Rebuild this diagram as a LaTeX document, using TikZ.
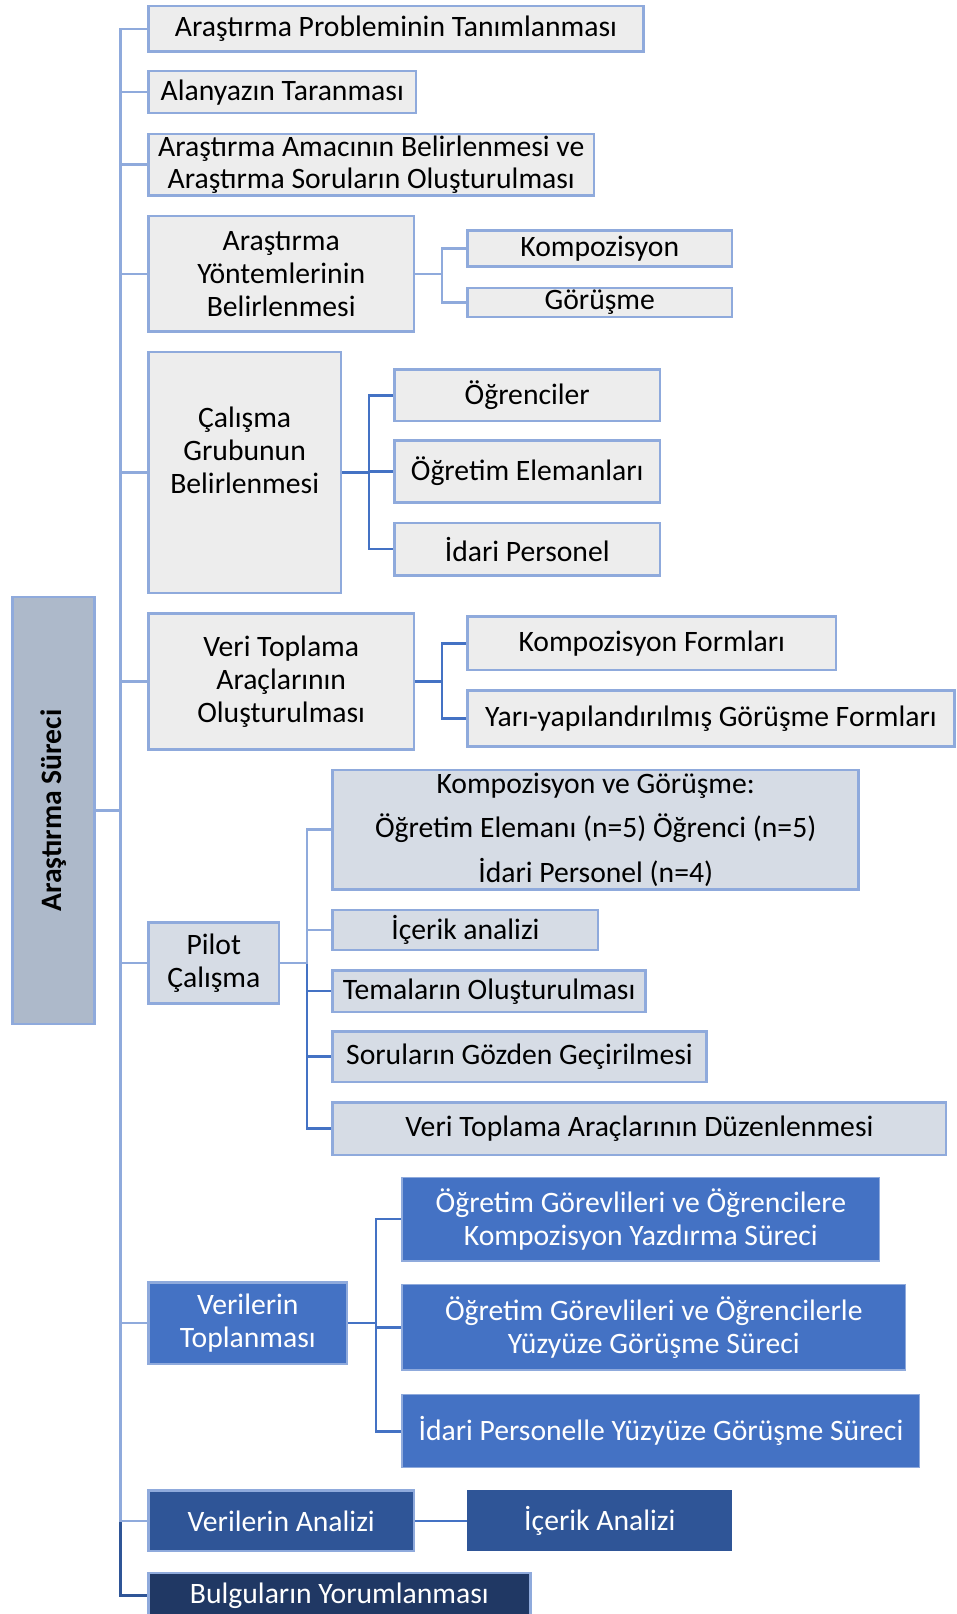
\documentclass[tikz,border=0pt]{standalone}
\usepackage{fontspec}
\setmainfont{Carlito}
\usepackage{tikz}
\usetikzlibrary{positioning, calc, backgrounds}

\definecolor{lineL}{HTML}{8FAADC}
\definecolor{lineM}{HTML}{4472C4}
\definecolor{lineD}{HTML}{2F5597}
\definecolor{fillG}{HTML}{EDEDED}
\definecolor{fillP}{HTML}{D6DCE5}
\definecolor{fillR}{HTML}{ADB9CA}
\definecolor{fillN}{HTML}{203864}

\tikzset{
  box/.style={draw=lineL, line width=2.4pt, fill=fillG, inner sep=0pt, align=center,
    anchor=west, font=\fontsize{28.8}{32}\selectfont},
  pbox/.style={box, fill=fillP},
  bbox/.style={box, fill=lineM, text=white},
  dbox/.style={box, fill=lineD, text=white},
  conL/.style={draw=lineL, line width=2.4pt},
  conM/.style={draw=lineM, line width=2.4pt},
  conD/.style={draw=lineD, line width=2.4pt}
}

\begin{document}
\begin{tikzpicture}[x=1pt, y=-1pt]
\useasboundingbox (0,0) rectangle (929,1568);

% root
\node[box, fill=fillR, anchor=center, minimum width=80, minimum height=415] (root) at (52,787.5)
  {\rotatebox{90}{\bfseries Araştırma Süreci}};

% first level
\node[box, minimum width=481, minimum height=44] (prob) at (143,28) {Araştırma Probleminin Tanımlanması};
\node[box, minimum width=260, minimum height=41] (alan) at (143,89.5) {Alanyazın Taranması};
\node[box, minimum width=433, minimum height=60] (amac) at (143,160) {Araştırma Amacının Belirlenmesi ve\\Araştırma Soruların Oluşturulması};
\node[box, minimum width=258, minimum height=112] (yont) at (143,266) {Araştırma\\Yöntemlerinin\\Belirlenmesi};
\node[box, minimum width=187, minimum height=234] (calis) at (143,459) {Çalışma\\Grubunun\\Belirlenmesi\\[12pt]\mbox{}};
\node[box, minimum width=258, minimum height=132] (veri) at (143,662) {Veri Toplama\\Araçlarının\\Oluşturulması};
\node[pbox, minimum width=127, minimum height=79] (pilot) at (143,935.5) {Pilot\\Çalışma};
\node[bbox, minimum width=193, minimum height=79] (topla) at (143,1285.5) {Verilerin\\Toplanması};
\node[dbox, minimum width=258, minimum height=59] (analiz) at (143,1477.5) {Verilerin Analizi};
\node[box, fill=fillN, text=white, minimum width=371, minimum height=44] (bulgu) at (143,1550) {Bulguların Yorumlanması};

% second level
\node[box, minimum width=257, minimum height=35] (komp) at (453,241.5) {Kompozisyon};
\node[box, minimum width=257, minimum height=28] (gor) at (453,294) {Görüşme};

\node[box, minimum width=258, minimum height=50] (ogr) at (382,384) {Öğrenciler};
\node[box, minimum width=258, minimum height=60] (ogrel) at (382,458) {Öğretim Elemanları};
\node[box, minimum width=258, minimum height=51] (idari) at (382,533.5) {İdari Personel};

\node[box, minimum width=358, minimum height=52] (kform) at (453,625) {Kompozisyon Formları};
\node[box, minimum width=473, minimum height=54] (yari) at (453,698) {Yarı-yapılandırılmış Görüşme Formları};

\node[pbox, minimum width=511, minimum height=116] (pkomp) at (322,806) {Kompozisyon ve Görüşme:\\[11.5pt]Öğretim Elemanı (n=5) Öğrenci (n=5)\\[11.5pt]İdari Personel (n=4)};
\node[pbox, minimum width=258, minimum height=39] (picerik) at (322,903.5) {İçerik analizi};
\node[pbox, minimum width=304, minimum height=40] (ptema) at (322,963) {Temaların Oluşturulması};
\node[pbox, minimum width=363, minimum height=49] (psoru) at (322,1026.5) {Soruların Gözden Geçirilmesi};
\node[pbox, minimum width=596, minimum height=51] (pveri) at (322,1096.5) {Veri Toplama Araçlarının Düzenlenmesi};

\node[bbox, line width=1.2pt, minimum width=464, minimum height=81] (tkomp) at (390,1184.5) {Öğretim Görevlileri ve Öğrencilere\\Kompozisyon Yazdırma Süreci};
\node[bbox, line width=1.2pt, minimum width=489, minimum height=83] (tyuz) at (390,1289.5) {Öğretim Görevlileri ve Öğrencilerle\\Yüzyüze Görüşme Süreci};
\node[bbox, line width=1.2pt, minimum width=503, minimum height=71] (tidari) at (390,1390.5) {İdari Personelle Yüzyüze Görüşme Süreci};

\node[dbox, draw=lineD, minimum width=255, minimum height=57] (icerik) at (454,1477.5) {İçerik Analizi};

% bend points
\coordinate (trunk) at (117,787.5);
\coordinate (yontB) at ($(yont.east)+(26,0)$);
\coordinate (calisB) at ($(calis.east)+(26,0)$);
\coordinate (veriB) at ($(veri.east)+(26,0)$);
\coordinate (pilotB) at ($(pilot.east)+(26,0)$);
\coordinate (toplaB) at ($(topla.east)+(27,0)$);

% connectors
\begin{scope}[on background layer]
\draw[conD] (root.east) -- (trunk) |- (bulgu.west);
\foreach \c in {analiz, topla, pilot, veri, calis, yont, amac, alan, prob}
  \draw[conL] (root.east) -- (trunk) |- (\c.west);
\foreach \c in {komp, gor}
  \draw[conL] (yont.east) -- (yontB) |- (\c.west);
\foreach \c in {ogr, ogrel, idari}
  \draw[conM] (calis.east) -- (calisB) |- (\c.west);
\foreach \c in {kform, yari}
  \draw[conM] (veri.east) -- (veriB) |- (\c.west);
\foreach \c in {ptema, psoru, pveri}
  \draw[conM] (pilot.east) -- (pilotB) |- (\c.west);
\foreach \c in {pkomp, picerik}
  \draw[conL] (pilot.east) -- (pilotB) |- (\c.west);
\foreach \c in {tkomp, tyuz, tidari}
  \draw[conM] (topla.east) -- (toplaB) |- (\c.west);
\draw[conM] (analiz) -- (icerik);
\end{scope}

\end{tikzpicture}
\end{document}
